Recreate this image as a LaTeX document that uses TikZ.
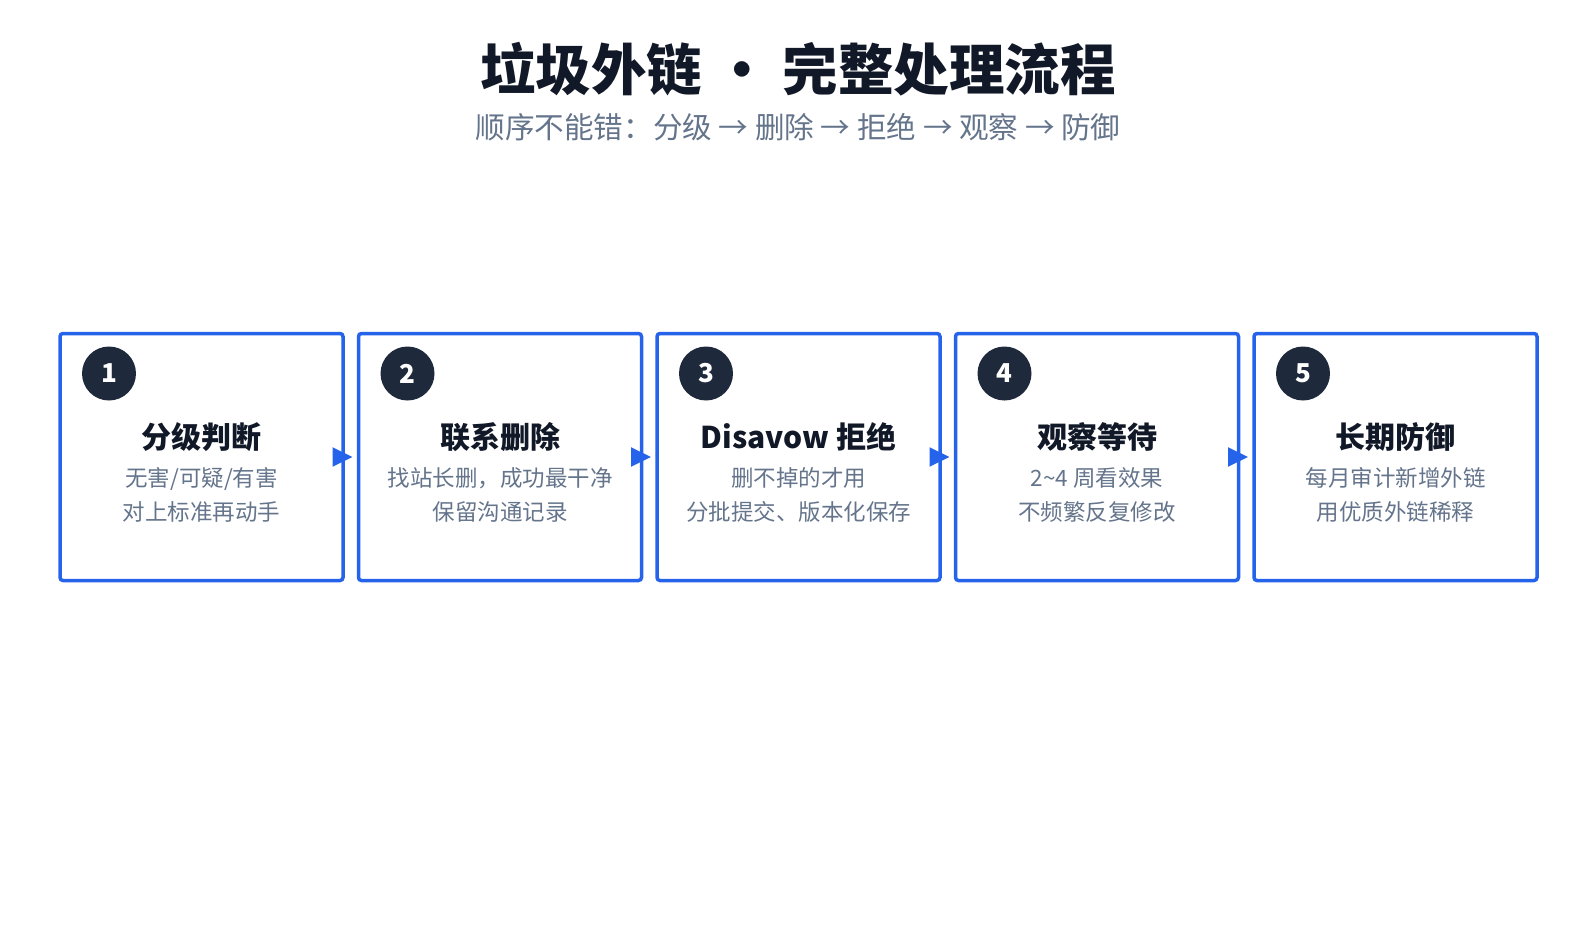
\documentclass[tikz,border=0pt]{standalone}
\usepackage{fontspec}
\setmainfont{Noto Sans CJK SC}
\IfFontExistsTF{Noto Sans CJK SC Black}
  {\newfontfamily\heavyfont{Noto Sans CJK SC Black}}
  {\newcommand\heavyfont{\bfseries}}
\usepackage{xcolor}
\usetikzlibrary{positioning,calc,arrows.meta}

\definecolor{stepblue}{HTML}{2563EB}
\definecolor{badgenavy}{HTML}{1E293B}
\definecolor{inkdark}{HTML}{111827}
\definecolor{slategray}{HTML}{64748B}

\begin{document}
\begin{tikzpicture}[x=1pt,y=-1pt]
\useasboundingbox (0,0) rectangle (1596,931);

\node[text=inkdark, font=\heavyfont\fontsize{55.5}{60}\selectfont] (title) at (798,69) {垃圾外链 • 完整处理流程};
\node[text=slategray, font=\fontsize{29.6}{32}\selectfont] (subtitle) at (798,127) {顺序不能错：分级 → 删除 → 拒绝 → 观察 → 防御};

\begin{scope}[every node/.style={draw=stepblue, line width=3.5pt, rounded corners=3pt,
              minimum width=283pt, minimum height=247pt, inner sep=0pt, outer sep=0pt}]
    \node (S1) at (201.5,457) {};
    \node (S2) at (500,457) {};
    \node (S3) at (798.5,457) {};
    \node (S4) at (1097,457) {};
    \node (S5) at (1395.5,457) {};
\end{scope}

\begin{scope}[every node/.style={circle, fill=badgenavy, minimum size=54pt, inner sep=0pt,
              text=white, font=\bfseries\fontsize{26}{26}\selectfont}]
    \node (N1) at ($(S1.north west)+(49,40)$) {1};
    \node (N2) at ($(S2.north west)+(49,40)$) {2};
    \node (N3) at ($(S3.north west)+(49,40)$) {3};
    \node (N4) at ($(S4.north west)+(49,40)$) {4};
    \node (N5) at ($(S5.north west)+(49,40)$) {5};
\end{scope}

\begin{scope}[every node/.style={text=inkdark, font=\bfseries\fontsize{30}{36}\selectfont}]
    \node (T1) at ($(S1.north)+(0,103.5)$) {分级判断};
    \node (T2) at ($(S2.north)+(0,103.5)$) {联系删除};
    \node (T3) at ($(S3.north)+(0,103.5)$) {Disavow 拒绝};
    \node (T4) at ($(S4.north)+(0,103.5)$) {观察等待};
    \node (T5) at ($(S5.north)+(0,103.5)$) {长期防御};
\end{scope}

\begin{scope}[every node/.style={text=slategray, align=center, font=\fontsize{22.5}{34}\selectfont}]
    \node (D1) at ($(S1.north)+(0,161.5)$) {无害/可疑/有害\\对上标准再动手};
    \node (D2) at ($(S2.north)+(0,161.5)$) {找站长删，成功最干净\\保留沟通记录};
    \node (D3) at ($(S3.north)+(0,161.5)$) {删不掉的才用\\分批提交、版本化保存};
    \node (D4) at ($(S4.north)+(0,161.5)$) {2\textasciitilde4 周看效果\\不频繁反复修改};
    \node (D5) at ($(S5.north)+(0,161.5)$) {每月审计新增外链\\用优质外链稀释};
\end{scope}

\begin{scope}[>={Triangle[length=20pt,width=19pt]},
              every edge/.style={draw=stepblue, line width=2pt, shorten >=6pt}]
    \path [->] (S1.east) edge (S2.west);
    \path [->] (S2.east) edge (S3.west);
    \path [->] (S3.east) edge (S4.west);
    \path [->] (S4.east) edge (S5.west);
\end{scope}
\end{tikzpicture}
\end{document}
